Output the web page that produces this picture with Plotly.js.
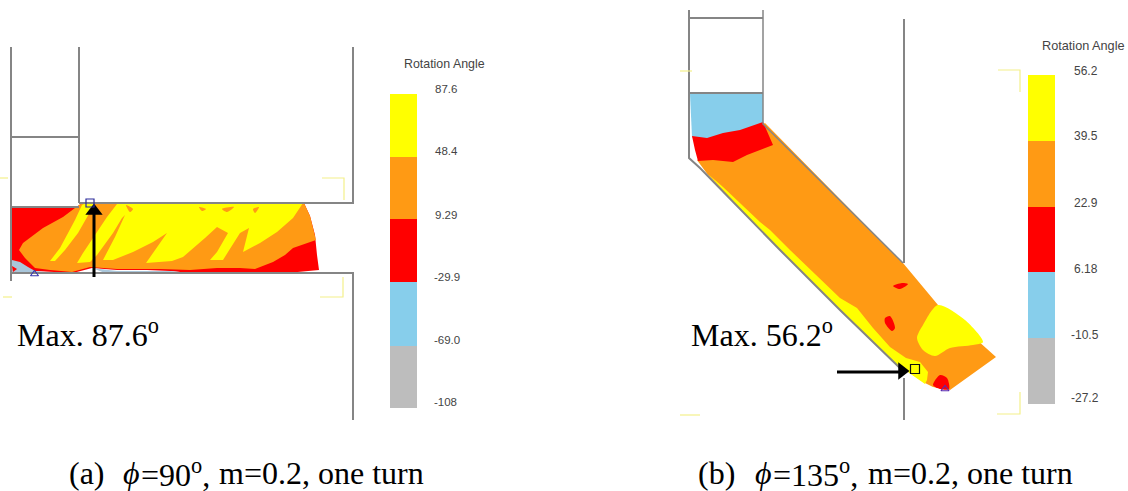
<!DOCTYPE html>
<html><head><meta charset="utf-8">
<script src="https://cdn.plot.ly/plotly-3.0.1.min.js"></script>
<style>html,body{margin:0;padding:0;background:#fff;overflow:hidden}#c{width:1128px;height:491px}.cartesianlayer{filter:blur(.45px)}</style>
</head><body><div id="c"></div>
<script>
// colours
const YEL='#ffff00',ORA='#ff9a14',RED='#ff0000',BLU='#87ceeb',GRY='#bdbdbd',STEEL='#a9c6da',WALL='#858585';
// legend levels
const legendTitle='Rotation Angle';
const labelsA=['87.6','48.4','9.29','-29.9','-69.0','-108'];
const labelsB=['56.2','39.5','22.9','6.18','-10.5','-27.2'];
const edgesA=[94,157,219,282,346,408];
const edgesB=[75,141,207,272,338,404];
const labelYA=[89,151,215,277,340,402];
const labelYB=[71,136,203,269,335,398];
const bandColors=[YEL,ORA,RED,BLU,GRY];
// panel (a) contour outlines
const aRedX=[12,75,82,304,310,315,317,319,287,190,170,147,117,92,73,35,12];
const aRedY=[208,208,203,203,216,235,255,270,273,273,271,270,270,268,273,271,273];
const aOraX=[19,23,43,63,75,82,304,310,316,293,285,273,255,240,217,190,160,147,117,90,72,50,35,25];
const aOraY=[250,243,228,217,208,203,203,216,240,248,255,262,269,268,268,270,269,269,269,267,272,270,268,258];
const aBluX=[12,20,28,35,57,12];
const aBluY=[260,262,267,271,273,274];
const aBlu2X=[92,105,190,170,147,117];
const aBlu2Y=[268,273,273,271,271,271];
const aRed2X=[12,17,13];
const aRed2Y=[266,269,272];
const aYelX=[117,303,293,277,260,243,249,240,228,223,210,217,228,217,205,183,172,160,146,153,160,167,153,133,113,103,115,125,122,113,97,90,77,83,107];
const aYelY=[204,203,218,232,243,252,228,233,252,260,260,252,233,227,238,257,261,262,263,253,243,233,242,252,260,260,237,215,218,233,255,262,263,253,217];
const aStripX=[50,60,75,82,84,95,90,78,65,55];
const aStripY=[261,248,220,205,204,204,212,233,250,261];
const aBlobsX=[[97,106,101],[126,133,130],[199,206,202],[222,234,227],[253,259,255]];
const aBlobsY=[[206,206,209],[205,209,212],[207,209,211],[209,207,212],[209,207,213]];
// panel (b) contour outlines
const bOraX=[697,765,903,938,996,950,933,925,895,840,780,708];
const bOraY=[160,123,263,305,357,390,387,383,363,310,250,175];
const bBluX=[690,763,763,733,700,692];
const bBluY=[94,94,125,145,148,137];
const bRedX=[692,707,723,740,763,767,773,760,747,733,713,698,695];
const bRedY=[136,138,133,130,122,132,145,150,155,162,160,161,150];
const bStripX=[708,723,760,770,790,840,857,873,890,906,920,928,927,925,895,840,780];
const bStripY=[174,187,222,230,250,298,308,328,347,358,362,372,380,384,363,310,250];
const bBlobX=[938,965,983,973,950,935,923,917,923];
const bBlobY=[305,320,342,345,348,356,350,338,325];
const bSpot1X=[893,902,908,900];const bSpot1Y=[286,283,284,289];
const bSpot2X=[885,890,895,892,885];const bSpot2Y=[318,316,328,331,323];
const bSpot3X=[933,940,947,949,940];const bSpot3Y=[385,375,378,389,389];
// wall polylines
const wallA1X=[11,11];const wallA1Y=[47,281];
const wallA2X=[79,79];const wallA2Y=[47,203];
const wallA3X=[11,79];const wallA3Y=[137,137];
const wallA4X=[79,353,353];const wallA4Y=[203,203,47];
const wallA5X=[11,79];const wallA5Y=[207,207];
const wallA6X=[11,353,353];const wallA6Y=[273,273,420];
const wallB1X=[689,689,700,780,840,895,903];const wallB1Y=[10,158,168,250,310,363,371];
const wallB2X=[763,763,903];const wallB2Y=[10,124,263];
const wallB3X=[689,763];const wallB3Y=[18,18];
const wallB4X=[689,763];const wallB4Y=[93,93];
const wallB5X=[904,904];const wallB5Y=[19,263];
const wallB6X=[904,904];const wallB6Y=[378,420];
const traces=[];
const poly=(x,y,c,smooth)=>traces.push({type:'scatter',mode:'lines',x:[...x,x[0]],y:[...y,y[0]],fill:'toself',fillcolor:c,line:{width:0,color:c,shape:smooth?'spline':'linear',smoothing:0.8},hoverinfo:'skip'});
const line=(x,y,c,w)=>traces.push({type:'scatter',mode:'lines',x,y,line:{color:c,width:w},hoverinfo:'skip'});
// panel a material
poly(aRedX,aRedY,RED);poly(aOraX,aOraY,ORA);
poly(aBluX,aBluY,STEEL);poly(aBlu2X,aBlu2Y,STEEL);poly(aRed2X,aRed2Y,RED);
poly(aYelX,aYelY,YEL);poly(aStripX,aStripY,YEL);
aBlobsX.forEach((b,i)=>poly(b,aBlobsY[i],ORA,true));
// panel a walls
line(wallA1X,wallA1Y,WALL,2);line(wallA2X,wallA2Y,WALL,2);line(wallA3X,wallA3Y,WALL,2);
line(wallA4X,wallA4Y,WALL,2);line(wallA5X,wallA5Y,WALL,2);line(wallA6X,wallA6Y,WALL,2);
// panel b material
poly(bOraX,bOraY,ORA);
poly(bBluX,bBluY,BLU);poly(bRedX,bRedY,RED);
poly(bStripX,bStripY,YEL);poly(bBlobX,bBlobY,YEL,true);
poly(bSpot1X,bSpot1Y,RED,true);poly(bSpot2X,bSpot2Y,RED,true);poly(bSpot3X,bSpot3Y,RED,true);
// panel b walls
line(wallB1X,wallB1Y,WALL,2);line(wallB2X,wallB2Y,WALL,1.5);line(wallB3X,wallB3Y,WALL,2);
line(wallB4X,wallB4Y,WALL,2);line(wallB5X,wallB5Y,WALL,2);line(wallB6X,wallB6Y,WALL,2);
// yellow corner brackets
const YB='#f4f08a';
line([322,344,344],[178,178,200],YB,1.2);
line([320,343,343],[297,297,277],YB,1.2);
line([3,12],[297,297],YB,1.2);line([0,8],[178,178],YB,1.2);
line([998,1020,1020],[70,70,92],YB,1.2);
line([997,1020,1020],[414,414,392],YB,1.2);
line([680,692],[71,71],YB,1.2);line([680,700],[415,415],YB,1.2);
// legend bars
const bars=(edges,x)=>{bandColors.forEach((c,i)=>traces.push({type:'bar',x:[x],y:[edges[i+1]-edges[i]],base:[edges[i]],width:[27],marker:{color:c,line:{width:0}},hoverinfo:'skip'}));};
bars(edgesA,403.5);bars(edgesB,1041.5);
// arrows
line([94,94],[277,214],'#000',3);
line([837,900],[372,372],'#000',3);
traces.push({type:'scatter',mode:'markers',x:[94],y:[211],marker:{symbol:'triangle-up',size:15,color:'#000'},hoverinfo:'skip'});
traces.push({type:'scatter',mode:'markers',x:[902],y:[371],marker:{symbol:'triangle-right',size:15,color:'#000'},hoverinfo:'skip'});
// node symbols
traces.push({type:'scatter',mode:'markers',x:[90],y:[203],marker:{symbol:'square-open',size:8,color:'#2a2a9a',line:{width:1.2}},hoverinfo:'skip'});
traces.push({type:'scatter',mode:'markers',x:[34.5],y:[274],marker:{symbol:'triangle-up-open',size:7,color:'#3a3ab0',line:{width:1.2}},hoverinfo:'skip'});
traces.push({type:'scatter',mode:'markers',x:[915],y:[369],marker:{symbol:'square-open',size:9,color:'#111',line:{width:1.2}},hoverinfo:'skip'});
traces.push({type:'scatter',mode:'markers',x:[945],y:[389],marker:{symbol:'triangle-up-open',size:7,color:'#5a2ab0',line:{width:1.2}},hoverinfo:'skip'});
const SANS='"Liberation Sans",Arial,sans-serif',SERIF='"Liberation Serif","Times New Roman",serif';
const note=(x,y,text,size,family,color)=>({x,y,text,xref:'x',yref:'y',xanchor:'left',yanchor:'middle',showarrow:false,font:{size,family,color},borderpad:0,align:'left'});
const anns=[];
anns.push(note(403,64,legendTitle,12.4,SANS,'#444'));
anns.push(note(1041,46,legendTitle,12.7,SANS,'#444'));
labelsA.forEach((t,i)=>anns.push(note(t[0]==='-'?433:434,labelYA[i],t,11.5,SANS,'#444')));
labelsB.forEach((t,i)=>anns.push(note(t[0]==='-'?1070:1073,labelYB[i],t,12,SANS,'#444')));
anns.push(note(16,333,'Max. 87.6<sup>o</sup>',32,SERIF,'#000'));
anns.push(note(690,333,'Max. 56.2<sup>o</sup>',32,SERIF,'#000'));
const capY=473;
anns.push(note(68,capY,'(a)',32,SERIF,'#000'));
anns.push(note(122,capY,'<i>ϕ</i>',32,SERIF,'#000'));
anns.push(note(140,capY,'=90<sup>o</sup>,',32,SERIF,'#000'));
anns.push(note(218,capY,'m=0.2, one turn',32,SERIF,'#000'));
anns.push(note(697,capY,'(b)',32,SERIF,'#000'));
anns.push(note(754,capY,'<i>ϕ</i>',32,SERIF,'#000'));
anns.push(note(772,capY,'=135<sup>o</sup>,',32,SERIF,'#000'));
anns.push(note(867,capY,'m=0.2, one turn',32,SERIF,'#000'));
Plotly.newPlot('c',traces,{
 width:1128,height:491,margin:{l:0,r:0,t:0,b:0},showlegend:false,barmode:'overlay',
 paper_bgcolor:'#fff',plot_bgcolor:'#fff',hovermode:false,
 xaxis:{range:[0,1128],visible:false,fixedrange:true},
 yaxis:{range:[491,0],visible:false,fixedrange:true},
 annotations:anns
},{staticPlot:true,displayModeBar:false});
</script></body></html>
